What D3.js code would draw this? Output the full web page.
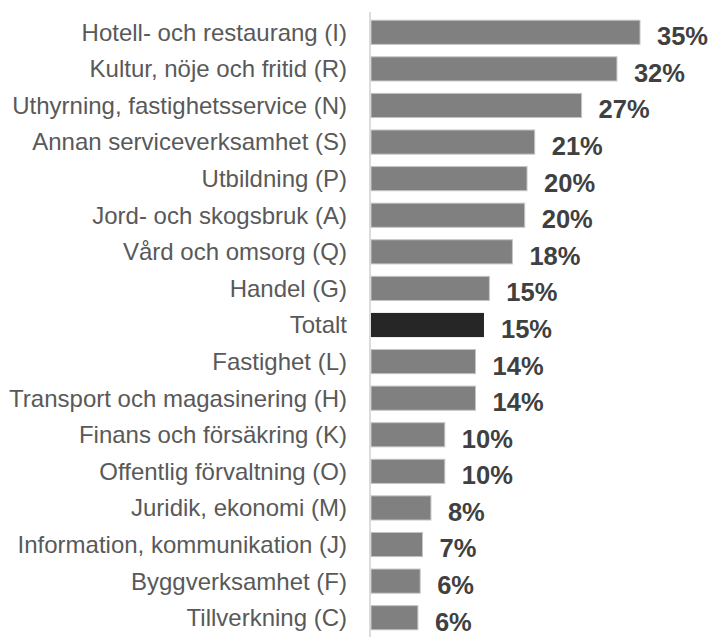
<!DOCTYPE html>
<html>
<head>
<meta charset="utf-8">
<script src="https://cdn.jsdelivr.net/npm/d3@7"></script>
<style>
	body { margin: 0; background: #fff; }
	text { font-family: "Liberation Sans", Arial, sans-serif; }
</style>
</head>
<body>
<div id="viz-holder"></div>
<script>
// branscher och andel (%)
let categories = [
	"Hotell- och restaurang (I)",
	"Kultur, nöje och fritid (R)",
	"Uthyrning, fastighetsservice (N)",
	"Annan serviceverksamhet (S)",
	"Utbildning (P)",
	"Jord- och skogsbruk (A)",
	"Vård och omsorg (Q)",
	"Handel (G)",
	"Totalt",
	"Fastighet (L)",
	"Transport och magasinering (H)",
	"Finans och försäkring (K)",
	"Offentlig förvaltning (O)",
	"Juridik, ekonomi (M)",
	"Information, kommunikation (J)",
	"Byggverksamhet (F)",
	"Tillverkning (C)"
];
let values = [35, 32, 27.4, 21.3, 20.3, 20, 18.4, 15.4, 14.7, 13.6, 13.6, 9.6, 9.6, 7.8, 6.7, 6.4, 6.1];
let valueLabels = ["35%", "32%", "27%", "21%", "20%", "20%", "18%", "15%", "15%", "14%", "14%", "10%", "10%", "8%", "7%", "6%", "6%"];

let width = 709, height = 637;
let margin = {top: 14, left: 370, right: 0, bottom: 0};

let svg = d3.select('#viz-holder')
	.append('svg')
	.attr('width', width)
	.attr('height', height);

let x = d3.scaleLinear()
	.domain([0, 35])
	.range([margin.left + 1, 640]);

let y = d3.scaleBand()
	.domain(categories)
	.range([margin.top, height - 1])
	.paddingInner(0.34)
	.paddingOuter(0.17);

svg.selectAll(".bar")
	.data(values)
	.enter()
	.append("rect")
	.attr("class", "bar")
	.attr("x", x(0))
	.attr("y", (d, i) => y(categories[i]))
	.attr("width", d => x(d) - x(0))
	.attr("height", y.bandwidth())
	.attr("fill", (d, i) => categories[i] == "Totalt" ? "#262626" : "#808080")
	.attr("stroke", (d, i) => categories[i] == "Totalt" ? "none" : "#c4c4c4")
	.attr("stroke-width", 1);

// axellinje
svg.append("line")
	.attr("x1", margin.left).attr("x2", margin.left)
	.attr("y1", 12).attr("y2", height)
	.attr("stroke", "#d0d0d0")
	.attr("stroke-width", 1.5);

svg.selectAll(".cat")
	.data(categories)
	.enter()
	.append("text")
	.attr("class", "cat")
	.attr("x", 347)
	.attr("y", d => y(d) + y.bandwidth() / 2)
	.attr("dy", "0.35em")
	.attr("text-anchor", "end")
	.attr("font-size", "24px")
	.attr("fill", "#595959")
	.text(d => d);

svg.selectAll(".val")
	.data(values)
	.enter()
	.append("text")
	.attr("class", "val")
	.attr("x", d => x(d) + 17)
	.attr("y", (d, i) => y(categories[i]) + y.bandwidth() / 2 + 4)
	.attr("dy", "0.35em")
	.attr("font-size", "25.5px")
	.attr("font-weight", "bold")
	.attr("fill", "#404040")
	.text((d, i) => valueLabels[i]);
</script>
</body>
</html>
